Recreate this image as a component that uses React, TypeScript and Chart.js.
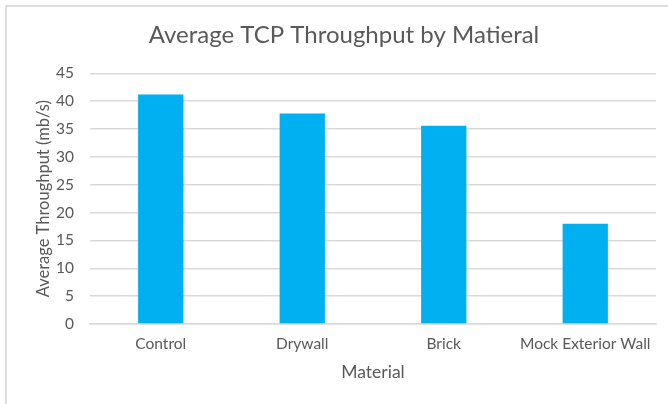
import React, { useEffect, useRef } from 'react';
import { Chart, registerables } from 'chart.js';

Chart.register(...registerables);

const categories = ['Control', 'Drywall', 'Brick', 'Mock Exterior Wall'];
const throughput = [41.2, 37.8, 35.6, 18.0];
const yMin = 0;
const yMax = 45;
const yStep = 5;
const chartTitle = 'Average TCP Throughput by Matieral';
const xTitle = 'Material';
const yTitle = 'Average Throughput (mb/s)';

const FONT = 'Lato';
const TEXT = '#595959';
const GRID = '#D9D9D9';
const BAR = '#00B0F0';

export default function App() {
  const ref = useRef<HTMLCanvasElement>(null);
  useEffect(() => {
    const chart = new Chart(ref.current as HTMLCanvasElement, {
      type: 'bar',
      data: {
        labels: categories,
        datasets: [
          {
            data: throughput,
            backgroundColor: BAR,
            barPercentage: 0.32,
            categoryPercentage: 1,
          },
        ],
      },
      options: {
        animation: false,
        responsive: false,
        devicePixelRatio: 1,
        layout: { padding: { left: 20, right: 0, top: 0, bottom: 0 } },
        plugins: {
          legend: { display: false },
          tooltip: { enabled: false },
          title: {
            display: true,
            text: chartTitle,
            color: TEXT,
            font: { family: FONT, size: 24, weight: 'normal', lineHeight: 1.2 },
            padding: { top: 21, bottom: 23.6 },
          },
        },
        scales: {
          x: {
            grid: { display: false, drawTicks: false },
            border: { color: GRID, width: 1.5 },
            ticks: { color: TEXT, font: { family: FONT, size: 15.5 }, padding: 11, maxRotation: 0, autoSkip: false },
            title: {
              display: true,
              text: xTitle,
              color: TEXT,
              font: { family: FONT, size: 17.5, lineHeight: 1.2 },
              padding: { top: 0, bottom: 21 },
            },
            afterFit: (s: any) => {
              s.height = 80;
            },
          },
          y: {
            min: yMin,
            max: yMax,
            ticks: { stepSize: yStep, color: TEXT, font: { family: FONT, size: 15.5 }, padding: 16 },
            grid: { color: GRID, lineWidth: 1.5, drawTicks: false },
            border: { display: false },
            title: {
              display: true,
              text: yTitle,
              color: TEXT,
              font: { family: FONT, size: 16.5, lineHeight: 1.2 },
              padding: { top: 14, bottom: 0 },
            },
            afterFit: (s: any) => {
              s.width = 70;
            },
          },
          y2: {
            position: 'right',
            display: true,
            grid: { display: false, drawTicks: false },
            ticks: { display: false },
            border: { display: false },
            afterFit: (s: any) => {
              s.width = 12;
            },
          },
        },
      } as any,
    });
    return () => chart.destroy();
  }, []);

  return (
    <div style={{ position: 'absolute', left: 0, top: 0, width: 668, height: 404, background: '#fff', overflow: 'hidden' }}>
      <canvas ref={ref} width={668} height={404} style={{ position: 'absolute', left: 0, top: 0, width: 668, height: 404 }} />
      <div
        style={{
          position: 'absolute',
          left: 5,
          top: 5,
          width: 700,
          height: 420,
          borderLeft: '2px solid #DEDEDE',
          borderTop: '2px solid #DEDEDE',
          pointerEvents: 'none',
        }}
      />
    </div>
  );
}
